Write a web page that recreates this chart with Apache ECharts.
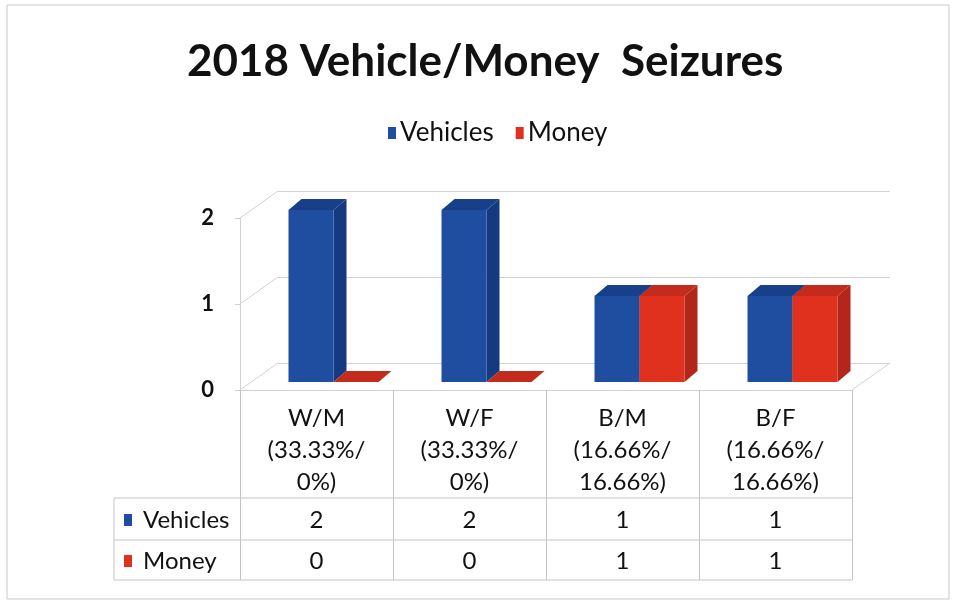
<!DOCTYPE html>
<html>
<head>
<meta charset="utf-8">
<title>2018 Vehicle/Money Seizures</title>
<script src="https://cdn.jsdelivr.net/npm/echarts@6/dist/echarts.min.js"></script>
<style>
  html, body { margin: 0; padding: 0; background: #fff; }
  #chart { width: 957px; height: 606px; }
</style>
</head>
<body>
<div id="chart"></div>
<script>
// values
var groups = ['W/M', 'W/F', 'B/M', 'B/F'];
var vehiclePct = ['33.33%', '33.33%', '16.66%', '16.66%'];
var moneyPct = ['0%', '0%', '16.66%', '16.66%'];
var vehicles = [2, 2, 1, 1];
var money = [0, 0, 1, 1];
var yTicks = [0, 1, 2];
var seriesNames = ['Vehicles', 'Money'];

var FONT = 'Lato, "Open Sans", sans-serif';
var TEXT = '#111111';
var GRID_LINE = '#d2d2d2';
var TABLE_LINE = '#c4c4c4';
var FS = 24;

// fake 3D: back wall offset from the front plane, bar offset and bar depth
var WALL_DEPTH = [38, -27];
var BAR_SHIFT = [17, -8];
var BAR_DEPTH = [13, -11];
var BAR_W = 45;

var palette = {
  Vehicles: { front: '#1f4ea1', side: '#143a7f', top: '#173f8a' },
  Money: { front: '#e0311f', side: '#b3261a', top: '#c42b1d' }
};

var front = { left: 240, right: 105, top: 218, bottom: 216 };
var back = {
  left: front.left + WALL_DEPTH[0],
  right: front.right - WALL_DEPTH[0],
  top: front.top + WALL_DEPTH[1],
  bottom: front.bottom - WALL_DEPTH[1]
};

var headers = groups.map(function (g, i) {
  return g + '\n(' + vehiclePct[i] + '/\n' + moneyPct[i] + ')';
});

function txt(text, x, y, size, align) {
  return {
    type: 'text',
    style: {
      text: text, x: x, y: y,
      align: align || 'center', verticalAlign: 'middle',
      fontFamily: FONT, fontSize: size, fill: TEXT
    }
  };
}

function ln(x1, y1, x2, y2, color) {
  return {
    type: 'line',
    shape: { x1: x1, y1: y1, x2: x2, y2: y2 },
    style: { stroke: color, lineWidth: 1 }
  };
}

// one 3D box per data item; side < 0 puts the bar left of the band centre
function barRenderer(side) {
  return function (params, api) {
    var c = palette[params.seriesName];
    var base = api.coord([api.value(0), 0]);
    var tip = api.coord([api.value(0), api.value(1)]);
    var x0 = base[0] + BAR_SHIFT[0] + (side < 0 ? -BAR_W : 0);
    var x1 = x0 + BAR_W;
    var yb = base[1] + BAR_SHIFT[1];
    var yt = tip[1] + BAR_SHIFT[1];
    var dx = BAR_DEPTH[0], dy = BAR_DEPTH[1];
    return {
      type: 'group',
      children: [
        { type: 'polygon', shape: { points: [[x1, yt], [x1 + dx, yt + dy], [x1 + dx, yb + dy], [x1, yb]] }, style: { fill: c.side } },
        { type: 'rect', shape: { x: x0, y: yt, width: BAR_W, height: yb - yt }, style: { fill: c.front } },
        { type: 'polygon', shape: { points: [[x0, yt], [x1, yt], [x1 + dx, yt + dy], [x0 + dx, yt + dy]] }, style: { fill: c.top } }
      ]
    };
  };
}

// left wall diagonals and right floor edge
function renderFrame(params, api) {
  var cs = params.coordSys;
  var y = api.coord([0, api.value(1)])[1];
  var kids = [ln(cs.x, y, cs.x + WALL_DEPTH[0], y + WALL_DEPTH[1], GRID_LINE)];
  if (api.value(1) === 0) {
    var xr = cs.x + cs.width;
    kids.push(ln(xr, y, xr + WALL_DEPTH[0], y + WALL_DEPTH[1], GRID_LINE));
  }
  return { type: 'group', children: kids };
}

// data table under the axis: value rows plus row headers on the first column
var ROW_TOP = 108, ROW_MID = 150, ROW_BOT = 190, HEAD_W = 126;
function renderTable(params, api) {
  var i = api.value(0);
  var c = api.coord([i, 0]);
  var band = api.size([1, 0])[0];
  var xl = c[0] - band / 2, xr = c[0] + band / 2;
  var y0 = c[1];
  var kids = [
    ln(xl, y0 + ROW_TOP, xr, y0 + ROW_TOP, TABLE_LINE),
    ln(xl, y0 + ROW_MID, xr, y0 + ROW_MID, TABLE_LINE),
    ln(xl, y0 + ROW_BOT, xr, y0 + ROW_BOT, TABLE_LINE),
    txt(String(vehicles[i]), c[0], y0 + (ROW_TOP + ROW_MID) / 2 + 1, FS),
    txt(String(money[i]), c[0], y0 + (ROW_MID + ROW_BOT) / 2 + 1, FS)
  ];
  if (i === 0) {
    var hx = xl - HEAD_W;
    kids.push(
      ln(hx, y0 + ROW_TOP, xl, y0 + ROW_TOP, TABLE_LINE),
      ln(hx, y0 + ROW_MID, xl, y0 + ROW_MID, TABLE_LINE),
      ln(hx, y0 + ROW_BOT, xl, y0 + ROW_BOT, TABLE_LINE),
      ln(hx, y0 + ROW_TOP, hx, y0 + ROW_BOT, TABLE_LINE)
    );
    var rowsY = [(ROW_TOP + ROW_MID) / 2, (ROW_MID + ROW_BOT) / 2];
    seriesNames.forEach(function (name, k) {
      var cy = y0 + rowsY[k] + 1;
      kids.push(
        { type: 'rect', shape: { x: hx + 10, y: cy - 6, width: 8, height: 12 }, style: { fill: palette[name].front } },
        txt(name, hx + 29, cy, FS, 'left')
      );
    });
  }
  return { type: 'group', children: kids };
}

var chart = echarts.init(document.getElementById('chart'));

var option = {
  animation: false,
  backgroundColor: '#fff',
  title: {
    text: '2018 Vehicle/Money  Seizures',
    left: 182,
    top: 35,
    textStyle: { fontFamily: FONT, fontSize: 44, fontWeight: 'bold', color: '#111' }
  },
  legend: {
    data: seriesNames,
    top: 115,
    left: 383,
    icon: 'rect',
    itemWidth: 8,
    itemHeight: 12,
    itemGap: 22,
    textStyle: { fontFamily: FONT, fontSize: 26, color: TEXT, padding: [0, 0, 0, -1] }
  },
  graphic: [{
    type: 'rect',
    shape: { x: 7, y: 5, width: 942, height: 594 },
    style: { fill: 'none', stroke: '#c9c9c9', lineWidth: 1 },
    silent: true
  }],
  grid: [
    { left: front.left, right: front.right, top: front.top, bottom: front.bottom },
    { left: back.left, right: back.right, top: back.top, bottom: back.bottom }
  ],
  xAxis: [{
    gridIndex: 0,
    type: 'category',
    data: headers,
    axisLine: { lineStyle: { color: GRID_LINE } },
    axisTick: { show: true, interval: 0, length: 190, lineStyle: { color: TABLE_LINE } },
    axisLabel: { interval: 0, margin: 12, lineHeight: 32, fontFamily: FONT, fontSize: FS, color: TEXT }
  }, {
    gridIndex: 1,
    type: 'category',
    data: groups,
    show: false
  }],
  yAxis: [{
    gridIndex: 0,
    type: 'value',
    min: 0,
    max: 2,
    interval: 1,
    axisLine: { show: true, lineStyle: { color: GRID_LINE } },
    axisTick: { show: true, length: 5, lineStyle: { color: GRID_LINE } },
    splitLine: { show: false },
    axisLabel: { margin: 26, fontFamily: FONT, fontSize: 22, fontWeight: 'bold', color: TEXT }
  }, {
    gridIndex: 1,
    type: 'value',
    min: 0,
    max: 2,
    interval: 1,
    axisLine: { show: false },
    axisTick: { show: false },
    axisLabel: { show: false },
    splitLine: { lineStyle: { color: GRID_LINE } }
  }],
  series: [{
    type: 'custom',
    name: 'frame',
    xAxisIndex: 0,
    yAxisIndex: 0,
    silent: true,
    renderItem: renderFrame,
    data: yTicks.map(function (v) { return [0, v]; })
  }, {
    type: 'custom',
    name: seriesNames[0],
    xAxisIndex: 0,
    yAxisIndex: 0,
    itemStyle: { color: palette.Vehicles.front },
    renderItem: barRenderer(-1),
    encode: { x: 0, y: 1 },
    data: vehicles.map(function (v, i) { return [i, v]; })
  }, {
    type: 'custom',
    name: seriesNames[1],
    xAxisIndex: 0,
    yAxisIndex: 0,
    itemStyle: { color: palette.Money.front },
    renderItem: barRenderer(1),
    encode: { x: 0, y: 1 },
    data: money.map(function (v, i) { return [i, v]; })
  }, {
    type: 'custom',
    name: 'table',
    xAxisIndex: 0,
    yAxisIndex: 0,
    silent: true,
    renderItem: renderTable,
    data: groups.map(function (g, i) { return [i, 0]; })
  }]
};

chart.setOption(option);
window.addEventListener('resize', function () { chart.resize(); });
</script>
</body>
</html>
